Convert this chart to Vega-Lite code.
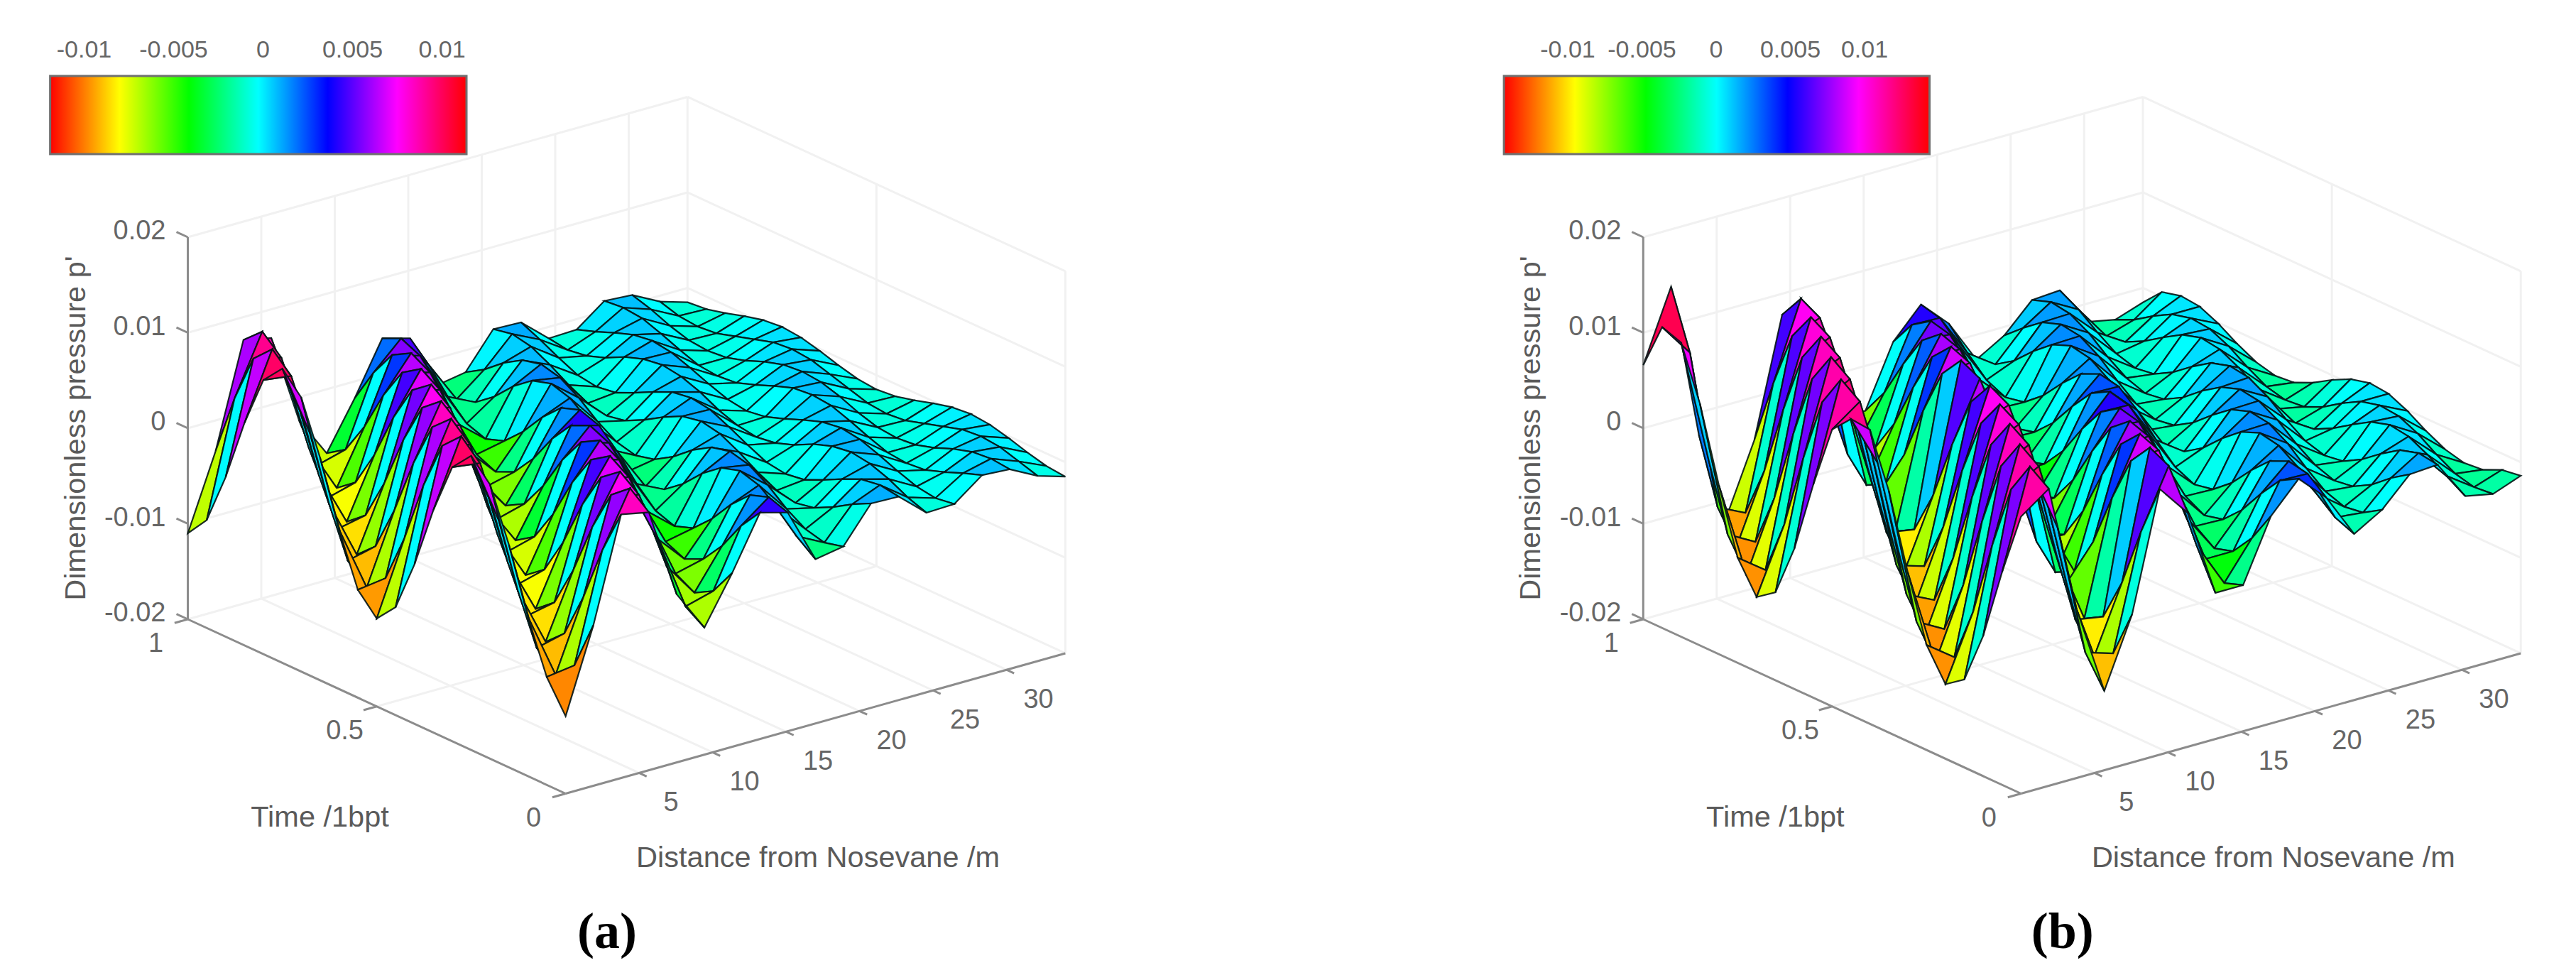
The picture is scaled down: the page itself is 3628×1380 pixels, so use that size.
{"$schema":"https://vega.github.io/schema/vega-lite/v6.json","width":3628,"height":1380,"padding":0,"autosize":{"type":"fit","contains":"padding"},"background":"white","config":{"view":{"stroke":null}},
"datasets":{
"cb":[{"r":"a","lo":-11.9,"hi":11.37},{"r":"b","lo":-14.3,"hi":14.38}],
"cbl":[{"r":"a","v":-10,"s":"-0.01"},{"r":"a","v":-5,"s":"-0.005"},{"r":"a","v":0,"s":"0"},{"r":"a","v":5,"s":"0.005"},{"r":"a","v":10,"s":"0.01"},{"r":"b","v":-10,"s":"-0.01"},{"r":"b","v":-5,"s":"-0.005"},{"r":"b","v":0,"s":"0"},{"r":"b","v":5,"s":"0.005"},{"r":"b","v":10,"s":"0.01"}],
"seg":[
{"g":"w","d":0,"t":1,"p":20,"d2":34,"t2":1,"p2":20},{"g":"w","d":0,"t":1,"p":10,"d2":34,"t2":1,"p2":10},{"g":"w","d":0,"t":1,"p":0,"d2":34,"t2":1,"p2":0},{"g":"w","d":0,"t":1,"p":-10,"d2":34,"t2":1,"p2":-10},{"g":"w","d":0,"t":1,"p":-20,"d2":34,"t2":1,"p2":-20},
{"g":"w","d":34,"t":1,"p":20,"d2":34,"t2":0,"p2":20},{"g":"w","d":34,"t":1,"p":10,"d2":34,"t2":0,"p2":10},{"g":"w","d":34,"t":1,"p":0,"d2":34,"t2":0,"p2":0},{"g":"w","d":34,"t":1,"p":-10,"d2":34,"t2":0,"p2":-10},{"g":"w","d":34,"t":1,"p":-20,"d2":34,"t2":0,"p2":-20},
{"g":"w","d":5,"t":1,"p":-20,"d2":5,"t2":1,"p2":20},{"g":"w","d":10,"t":1,"p":-20,"d2":10,"t2":1,"p2":20},{"g":"w","d":15,"t":1,"p":-20,"d2":15,"t2":1,"p2":20},{"g":"w","d":20,"t":1,"p":-20,"d2":20,"t2":1,"p2":20},{"g":"w","d":25,"t":1,"p":-20,"d2":25,"t2":1,"p2":20},{"g":"w","d":30,"t":1,"p":-20,"d2":30,"t2":1,"p2":20},{"g":"w","d":34,"t":1,"p":-20,"d2":34,"t2":1,"p2":20},{"g":"w","d":34,"t":0.5,"p":-20,"d2":34,"t2":0.5,"p2":20},{"g":"w","d":34,"t":0,"p":-20,"d2":34,"t2":0,"p2":20},
{"g":"w","d":5,"t":1,"p":-20,"d2":5,"t2":0,"p2":-20},{"g":"w","d":10,"t":1,"p":-20,"d2":10,"t2":0,"p2":-20},{"g":"w","d":15,"t":1,"p":-20,"d2":15,"t2":0,"p2":-20},{"g":"w","d":20,"t":1,"p":-20,"d2":20,"t2":0,"p2":-20},{"g":"w","d":25,"t":1,"p":-20,"d2":25,"t2":0,"p2":-20},{"g":"w","d":30,"t":1,"p":-20,"d2":30,"t2":0,"p2":-20},{"g":"w","d":0,"t":0.5,"p":-20,"d2":34,"t2":0.5,"p2":-20},
{"g":"k","d":0,"t":1,"p":-20,"d2":0,"t2":1,"p2":20},{"g":"k","d":0,"t":1,"p":-20,"d2":0,"t2":0,"p2":-20},{"g":"k","d":0,"t":0,"p":-20,"d2":34,"t2":0,"p2":-20},
{"g":"k","d":0,"t":1,"p":20,"d2":0,"t2":1.03,"p2":20},{"g":"k","d":0,"t":1,"p":10,"d2":0,"t2":1.03,"p2":10},{"g":"k","d":0,"t":1,"p":0,"d2":0,"t2":1.03,"p2":0},{"g":"k","d":0,"t":1,"p":-10,"d2":0,"t2":1.03,"p2":-10},{"g":"k","d":0,"t":1,"p":-20,"d2":0,"t2":1.03,"p2":-20},
{"g":"k","d":0,"t":0.5,"p":-20,"d2":-0.9,"t2":0.5,"p2":-20},{"g":"k","d":0,"t":0,"p":-20,"d2":-0.9,"t2":0,"p2":-20},{"g":"k","d":0,"t":1,"p":-20,"d2":-0.9,"t2":1,"p2":-20},
{"g":"k","d":5,"t":0,"p":-20,"d2":5,"t2":-0.02,"p2":-20},{"g":"k","d":10,"t":0,"p":-20,"d2":10,"t2":-0.02,"p2":-20},{"g":"k","d":15,"t":0,"p":-20,"d2":15,"t2":-0.02,"p2":-20},{"g":"k","d":20,"t":0,"p":-20,"d2":20,"t2":-0.02,"p2":-20},{"g":"k","d":25,"t":0,"p":-20,"d2":25,"t2":-0.02,"p2":-20},{"g":"k","d":30,"t":0,"p":-20,"d2":30,"t2":-0.02,"p2":-20}],
"lab":[
{"g":"p","d":0,"t":1,"p":20,"s":"0.02"},{"g":"p","d":0,"t":1,"p":10,"s":"0.01"},{"g":"p","d":0,"t":1,"p":0,"s":"0"},{"g":"p","d":0,"t":1,"p":-10,"s":"-0.01"},{"g":"p","d":0,"t":1,"p":-20,"s":"-0.02"},
{"g":"t","d":0,"t":1,"p":-20,"s":"1"},{"g":"t","d":0,"t":0.5,"p":-20,"s":"0.5"},{"g":"t","d":0,"t":0,"p":-20,"s":"0"},
{"g":"d","d":5,"t":0,"p":-20,"s":"5"},{"g":"d","d":10,"t":0,"p":-20,"s":"10"},{"g":"d","d":15,"t":0,"p":-20,"s":"15"},{"g":"d","d":20,"t":0,"p":-20,"s":"20"},{"g":"d","d":25,"t":0,"p":-20,"s":"25"},{"g":"d","d":30,"t":0,"p":-20,"s":"30"},
{"g":"T","d":0,"t":0.5,"p":-20,"s":"Time /1bpt"},{"g":"D","d":17,"t":0,"p":-20,"s":"Distance from Nosevane /m"},{"g":"P","d":0,"t":1,"p":0,"s":"Dimensionless pressure p'"}],
"grid":[
{"r":"a","j":18,"i":20,"p":-1.5},{"r":"a","j":18,"i":19,"p":-1.3},{"r":"a","j":18,"i":18,"p":-0.8},{"r":"a","j":18,"i":17,"p":-0.2},{"r":"a","j":18,"i":16,"p":0.3},{"r":"a","j":18,"i":15,"p":0.5},{"r":"a","j":18,"i":14,"p":0.3},{"r":"a","j":18,"i":13,"p":-0.2},{"r":"a","j":18,"i":12,"p":-0.8},{"r":"a","j":18,"i":11,"p":-1.3},{"r":"a","j":18,"i":10,"p":-1.5},{"r":"a","j":18,"i":9,"p":-1.3},{"r":"a","j":18,"i":8,"p":-0.8},{"r":"a","j":18,"i":7,"p":-0.2},{"r":"a","j":18,"i":6,"p":0.3},{"r":"a","j":18,"i":5,"p":0.5},{"r":"a","j":18,"i":4,"p":0.3},{"r":"a","j":18,"i":3,"p":-0.2},{"r":"a","j":18,"i":2,"p":-0.8},{"r":"a","j":18,"i":1,"p":-1.3},{"r":"a","j":18,"i":0,"p":-1.5},
{"r":"a","j":17,"i":20,"p":-0.6},{"r":"a","j":17,"i":19,"p":-1.2},{"r":"a","j":17,"i":18,"p":-1.4},{"r":"a","j":17,"i":17,"p":-1.2},{"r":"a","j":17,"i":16,"p":-0.6},{"r":"a","j":17,"i":15,"p":0},{"r":"a","j":17,"i":14,"p":0.6},{"r":"a","j":17,"i":13,"p":0.8},{"r":"a","j":17,"i":12,"p":0.6},{"r":"a","j":17,"i":11,"p":0},{"r":"a","j":17,"i":10,"p":-0.6},{"r":"a","j":17,"i":9,"p":-1.2},{"r":"a","j":17,"i":8,"p":-1.4},{"r":"a","j":17,"i":7,"p":-1.2},{"r":"a","j":17,"i":6,"p":-0.6},{"r":"a","j":17,"i":5,"p":0},{"r":"a","j":17,"i":4,"p":0.6},{"r":"a","j":17,"i":3,"p":0.8},{"r":"a","j":17,"i":2,"p":0.6},{"r":"a","j":17,"i":1,"p":0},{"r":"a","j":17,"i":0,"p":-0.6},
{"r":"a","j":16,"i":20,"p":0.9},{"r":"a","j":16,"i":19,"p":0.3},{"r":"a","j":16,"i":18,"p":-0.5},{"r":"a","j":16,"i":17,"p":-1.1},{"r":"a","j":16,"i":16,"p":-1.3},{"r":"a","j":16,"i":15,"p":-1.1},{"r":"a","j":16,"i":14,"p":-0.5},{"r":"a","j":16,"i":13,"p":0.3},{"r":"a","j":16,"i":12,"p":0.9},{"r":"a","j":16,"i":11,"p":1.1},{"r":"a","j":16,"i":10,"p":0.9},{"r":"a","j":16,"i":9,"p":0.3},{"r":"a","j":16,"i":8,"p":-0.5},{"r":"a","j":16,"i":7,"p":-1.1},{"r":"a","j":16,"i":6,"p":-1.3},{"r":"a","j":16,"i":5,"p":-1.1},{"r":"a","j":16,"i":4,"p":-0.5},{"r":"a","j":16,"i":3,"p":0.3},{"r":"a","j":16,"i":2,"p":0.9},{"r":"a","j":16,"i":1,"p":1.1},{"r":"a","j":16,"i":0,"p":0.9},
{"r":"a","j":15,"i":20,"p":1.1},{"r":"a","j":15,"i":19,"p":1.3},{"r":"a","j":15,"i":18,"p":1.1},{"r":"a","j":15,"i":17,"p":0.4},{"r":"a","j":15,"i":16,"p":-0.4},{"r":"a","j":15,"i":15,"p":-1.1},{"r":"a","j":15,"i":14,"p":-1.3},{"r":"a","j":15,"i":13,"p":-1.1},{"r":"a","j":15,"i":12,"p":-0.4},{"r":"a","j":15,"i":11,"p":0.4},{"r":"a","j":15,"i":10,"p":1.1},{"r":"a","j":15,"i":9,"p":1.3},{"r":"a","j":15,"i":8,"p":1.1},{"r":"a","j":15,"i":7,"p":0.4},{"r":"a","j":15,"i":6,"p":-0.4},{"r":"a","j":15,"i":5,"p":-1.1},{"r":"a","j":15,"i":4,"p":-1.3},{"r":"a","j":15,"i":3,"p":-1.1},{"r":"a","j":15,"i":2,"p":-0.4},{"r":"a","j":15,"i":1,"p":0.4},{"r":"a","j":15,"i":0,"p":1.1},
{"r":"a","j":14,"i":20,"p":-1.1},{"r":"a","j":14,"i":19,"p":-0.4},{"r":"a","j":14,"i":18,"p":0.4},{"r":"a","j":14,"i":17,"p":1.1},{"r":"a","j":14,"i":16,"p":1.4},{"r":"a","j":14,"i":15,"p":1.1},{"r":"a","j":14,"i":14,"p":0.4},{"r":"a","j":14,"i":13,"p":-0.4},{"r":"a","j":14,"i":12,"p":-1.1},{"r":"a","j":14,"i":11,"p":-1.4},{"r":"a","j":14,"i":10,"p":-1.1},{"r":"a","j":14,"i":9,"p":-0.4},{"r":"a","j":14,"i":8,"p":0.4},{"r":"a","j":14,"i":7,"p":1.1},{"r":"a","j":14,"i":6,"p":1.4},{"r":"a","j":14,"i":5,"p":1.1},{"r":"a","j":14,"i":4,"p":0.4},{"r":"a","j":14,"i":3,"p":-0.4},{"r":"a","j":14,"i":2,"p":-1.1},{"r":"a","j":14,"i":1,"p":-1.4},{"r":"a","j":14,"i":0,"p":-1.1},
{"r":"a","j":13,"i":20,"p":-1.2},{"r":"a","j":13,"i":19,"p":-1.5},{"r":"a","j":13,"i":18,"p":-1.2},{"r":"a","j":13,"i":17,"p":-0.5},{"r":"a","j":13,"i":16,"p":0.5},{"r":"a","j":13,"i":15,"p":1.2},{"r":"a","j":13,"i":14,"p":1.5},{"r":"a","j":13,"i":13,"p":1.2},{"r":"a","j":13,"i":12,"p":0.5},{"r":"a","j":13,"i":11,"p":-0.5},{"r":"a","j":13,"i":10,"p":-1.2},{"r":"a","j":13,"i":9,"p":-1.5},{"r":"a","j":13,"i":8,"p":-1.2},{"r":"a","j":13,"i":7,"p":-0.5},{"r":"a","j":13,"i":6,"p":0.5},{"r":"a","j":13,"i":5,"p":1.2},{"r":"a","j":13,"i":4,"p":1.5},{"r":"a","j":13,"i":3,"p":1.2},{"r":"a","j":13,"i":2,"p":0.5},{"r":"a","j":13,"i":1,"p":-0.5},{"r":"a","j":13,"i":0,"p":-1.2},
{"r":"a","j":12,"i":20,"p":1.3},{"r":"a","j":12,"i":19,"p":0.4},{"r":"a","j":12,"i":18,"p":-0.6},{"r":"a","j":12,"i":17,"p":-1.5},{"r":"a","j":12,"i":16,"p":-1.8},{"r":"a","j":12,"i":15,"p":-1.5},{"r":"a","j":12,"i":14,"p":-0.6},{"r":"a","j":12,"i":13,"p":0.4},{"r":"a","j":12,"i":12,"p":1.3},{"r":"a","j":12,"i":11,"p":1.6},{"r":"a","j":12,"i":10,"p":1.3},{"r":"a","j":12,"i":9,"p":0.4},{"r":"a","j":12,"i":8,"p":-0.6},{"r":"a","j":12,"i":7,"p":-1.5},{"r":"a","j":12,"i":6,"p":-1.8},{"r":"a","j":12,"i":5,"p":-1.5},{"r":"a","j":12,"i":4,"p":-0.6},{"r":"a","j":12,"i":3,"p":0.4},{"r":"a","j":12,"i":2,"p":1.3},{"r":"a","j":12,"i":1,"p":1.6},{"r":"a","j":12,"i":0,"p":1.3},
{"r":"a","j":11,"i":20,"p":1.4},{"r":"a","j":11,"i":19,"p":1.8},{"r":"a","j":11,"i":18,"p":1.4},{"r":"a","j":11,"i":17,"p":0.4},{"r":"a","j":11,"i":16,"p":-0.8},{"r":"a","j":11,"i":15,"p":-1.8},{"r":"a","j":11,"i":14,"p":-2.2},{"r":"a","j":11,"i":13,"p":-1.8},{"r":"a","j":11,"i":12,"p":-0.8},{"r":"a","j":11,"i":11,"p":0.4},{"r":"a","j":11,"i":10,"p":1.4},{"r":"a","j":11,"i":9,"p":1.8},{"r":"a","j":11,"i":8,"p":1.4},{"r":"a","j":11,"i":7,"p":0.4},{"r":"a","j":11,"i":6,"p":-0.8},{"r":"a","j":11,"i":5,"p":-1.8},{"r":"a","j":11,"i":4,"p":-2.2},{"r":"a","j":11,"i":3,"p":-1.8},{"r":"a","j":11,"i":2,"p":-0.8},{"r":"a","j":11,"i":1,"p":0.4},{"r":"a","j":11,"i":0,"p":1.4},
{"r":"a","j":10,"i":20,"p":-2.3},{"r":"a","j":10,"i":19,"p":-1.1},{"r":"a","j":10,"i":18,"p":0.5},{"r":"a","j":10,"i":17,"p":1.7},{"r":"a","j":10,"i":16,"p":2.2},{"r":"a","j":10,"i":15,"p":1.7},{"r":"a","j":10,"i":14,"p":0.5},{"r":"a","j":10,"i":13,"p":-1.1},{"r":"a","j":10,"i":12,"p":-2.3},{"r":"a","j":10,"i":11,"p":-2.8},{"r":"a","j":10,"i":10,"p":-2.3},{"r":"a","j":10,"i":9,"p":-1.1},{"r":"a","j":10,"i":8,"p":0.5},{"r":"a","j":10,"i":7,"p":1.7},{"r":"a","j":10,"i":6,"p":2.2},{"r":"a","j":10,"i":5,"p":1.7},{"r":"a","j":10,"i":4,"p":0.5},{"r":"a","j":10,"i":3,"p":-1.1},{"r":"a","j":10,"i":2,"p":-2.3},{"r":"a","j":10,"i":1,"p":-2.8},{"r":"a","j":10,"i":0,"p":-2.3},
{"r":"a","j":9,"i":20,"p":-2.8},{"r":"a","j":9,"i":19,"p":-3.4},{"r":"a","j":9,"i":18,"p":-2.8},{"r":"a","j":9,"i":17,"p":-1.3},{"r":"a","j":9,"i":16,"p":0.7},{"r":"a","j":9,"i":15,"p":2.2},{"r":"a","j":9,"i":14,"p":2.8},{"r":"a","j":9,"i":13,"p":2.2},{"r":"a","j":9,"i":12,"p":0.7},{"r":"a","j":9,"i":11,"p":-1.3},{"r":"a","j":9,"i":10,"p":-2.8},{"r":"a","j":9,"i":9,"p":-3.4},{"r":"a","j":9,"i":8,"p":-2.8},{"r":"a","j":9,"i":7,"p":-1.3},{"r":"a","j":9,"i":6,"p":0.7},{"r":"a","j":9,"i":5,"p":2.2},{"r":"a","j":9,"i":4,"p":2.8},{"r":"a","j":9,"i":3,"p":2.2},{"r":"a","j":9,"i":2,"p":0.7},{"r":"a","j":9,"i":1,"p":-1.3},{"r":"a","j":9,"i":0,"p":-2.8},
{"r":"a","j":8,"i":20,"p":2.9},{"r":"a","j":8,"i":19,"p":1},{"r":"a","j":8,"i":18,"p":-1.4},{"r":"a","j":8,"i":17,"p":-3.3},{"r":"a","j":8,"i":16,"p":-4},{"r":"a","j":8,"i":15,"p":-3.3},{"r":"a","j":8,"i":14,"p":-1.4},{"r":"a","j":8,"i":13,"p":1},{"r":"a","j":8,"i":12,"p":2.9},{"r":"a","j":8,"i":11,"p":3.6},{"r":"a","j":8,"i":10,"p":2.9},{"r":"a","j":8,"i":9,"p":1},{"r":"a","j":8,"i":8,"p":-1.4},{"r":"a","j":8,"i":7,"p":-3.3},{"r":"a","j":8,"i":6,"p":-4},{"r":"a","j":8,"i":5,"p":-3.3},{"r":"a","j":8,"i":4,"p":-1.4},{"r":"a","j":8,"i":3,"p":1},{"r":"a","j":8,"i":2,"p":2.9},{"r":"a","j":8,"i":1,"p":3.6},{"r":"a","j":8,"i":0,"p":2.9},
{"r":"a","j":7,"i":20,"p":3.7},{"r":"a","j":7,"i":19,"p":4.6},{"r":"a","j":7,"i":18,"p":3.7},{"r":"a","j":7,"i":17,"p":1.4},{"r":"a","j":7,"i":16,"p":-1.6},{"r":"a","j":7,"i":15,"p":-3.9},{"r":"a","j":7,"i":14,"p":-4.8},{"r":"a","j":7,"i":13,"p":-3.9},{"r":"a","j":7,"i":12,"p":-1.6},{"r":"a","j":7,"i":11,"p":1.4},{"r":"a","j":7,"i":10,"p":3.7},{"r":"a","j":7,"i":9,"p":4.6},{"r":"a","j":7,"i":8,"p":3.7},{"r":"a","j":7,"i":7,"p":1.4},{"r":"a","j":7,"i":6,"p":-1.6},{"r":"a","j":7,"i":5,"p":-3.9},{"r":"a","j":7,"i":4,"p":-4.8},{"r":"a","j":7,"i":3,"p":-3.9},{"r":"a","j":7,"i":2,"p":-1.6},{"r":"a","j":7,"i":1,"p":1.4},{"r":"a","j":7,"i":0,"p":3.7},
{"r":"a","j":6,"i":20,"p":-1.8},{"r":"a","j":6,"i":19,"p":1.8},{"r":"a","j":6,"i":18,"p":4.6},{"r":"a","j":6,"i":17,"p":5.7},{"r":"a","j":6,"i":16,"p":4.6},{"r":"a","j":6,"i":15,"p":1.8},{"r":"a","j":6,"i":14,"p":-1.8},{"r":"a","j":6,"i":13,"p":-4.6},{"r":"a","j":6,"i":12,"p":-5.7},{"r":"a","j":6,"i":11,"p":-4.6},{"r":"a","j":6,"i":10,"p":-1.8},{"r":"a","j":6,"i":9,"p":1.8},{"r":"a","j":6,"i":8,"p":4.6},{"r":"a","j":6,"i":7,"p":5.7},{"r":"a","j":6,"i":6,"p":4.6},{"r":"a","j":6,"i":5,"p":1.8},{"r":"a","j":6,"i":4,"p":-1.8},{"r":"a","j":6,"i":3,"p":-4.6},{"r":"a","j":6,"i":2,"p":-5.7},{"r":"a","j":6,"i":1,"p":-4.6},{"r":"a","j":6,"i":0,"p":-1.8},
{"r":"a","j":5,"i":20,"p":-6.7},{"r":"a","j":5,"i":19,"p":-5.4},{"r":"a","j":5,"i":18,"p":-2.1},{"r":"a","j":5,"i":17,"p":2.1},{"r":"a","j":5,"i":16,"p":5.4},{"r":"a","j":5,"i":15,"p":6.7},{"r":"a","j":5,"i":14,"p":5.4},{"r":"a","j":5,"i":13,"p":2.1},{"r":"a","j":5,"i":12,"p":-2.1},{"r":"a","j":5,"i":11,"p":-5.4},{"r":"a","j":5,"i":10,"p":-6.7},{"r":"a","j":5,"i":9,"p":-5.4},{"r":"a","j":5,"i":8,"p":-2.1},{"r":"a","j":5,"i":7,"p":2.1},{"r":"a","j":5,"i":6,"p":5.4},{"r":"a","j":5,"i":5,"p":6.7},{"r":"a","j":5,"i":4,"p":5.4},{"r":"a","j":5,"i":3,"p":2.1},{"r":"a","j":5,"i":2,"p":-2.1},{"r":"a","j":5,"i":1,"p":-5.4},{"r":"a","j":5,"i":0,"p":-6.7},
{"r":"a","j":4,"i":20,"p":-2.4},{"r":"a","j":4,"i":19,"p":-6.2},{"r":"a","j":4,"i":18,"p":-7.7},{"r":"a","j":4,"i":17,"p":-6.2},{"r":"a","j":4,"i":16,"p":-2.4},{"r":"a","j":4,"i":15,"p":2.4},{"r":"a","j":4,"i":14,"p":6.2},{"r":"a","j":4,"i":13,"p":7.7},{"r":"a","j":4,"i":12,"p":6.2},{"r":"a","j":4,"i":11,"p":2.4},{"r":"a","j":4,"i":10,"p":-2.4},{"r":"a","j":4,"i":9,"p":-6.2},{"r":"a","j":4,"i":8,"p":-7.7},{"r":"a","j":4,"i":7,"p":-6.2},{"r":"a","j":4,"i":6,"p":-2.4},{"r":"a","j":4,"i":5,"p":2.4},{"r":"a","j":4,"i":4,"p":6.2},{"r":"a","j":4,"i":3,"p":7.7},{"r":"a","j":4,"i":2,"p":6.2},{"r":"a","j":4,"i":1,"p":2.4},{"r":"a","j":4,"i":0,"p":-2.4},
{"r":"a","j":3,"i":20,"p":7},{"r":"a","j":3,"i":19,"p":2.7},{"r":"a","j":3,"i":18,"p":-2.7},{"r":"a","j":3,"i":17,"p":-7},{"r":"a","j":3,"i":16,"p":-8.6},{"r":"a","j":3,"i":15,"p":-7},{"r":"a","j":3,"i":14,"p":-2.7},{"r":"a","j":3,"i":13,"p":2.7},{"r":"a","j":3,"i":12,"p":7},{"r":"a","j":3,"i":11,"p":8.6},{"r":"a","j":3,"i":10,"p":7},{"r":"a","j":3,"i":9,"p":2.7},{"r":"a","j":3,"i":8,"p":-2.7},{"r":"a","j":3,"i":7,"p":-7},{"r":"a","j":3,"i":6,"p":-8.6},{"r":"a","j":3,"i":5,"p":-7},{"r":"a","j":3,"i":4,"p":-2.7},{"r":"a","j":3,"i":3,"p":2.7},{"r":"a","j":3,"i":2,"p":7},{"r":"a","j":3,"i":1,"p":8.6},{"r":"a","j":3,"i":0,"p":7},
{"r":"a","j":2,"i":20,"p":7.6},{"r":"a","j":2,"i":19,"p":9.4},{"r":"a","j":2,"i":18,"p":7.6},{"r":"a","j":2,"i":17,"p":2.9},{"r":"a","j":2,"i":16,"p":-2.9},{"r":"a","j":2,"i":15,"p":-7.6},{"r":"a","j":2,"i":14,"p":-9.4},{"r":"a","j":2,"i":13,"p":-7.6},{"r":"a","j":2,"i":12,"p":-2.9},{"r":"a","j":2,"i":11,"p":2.9},{"r":"a","j":2,"i":10,"p":7.6},{"r":"a","j":2,"i":9,"p":9.4},{"r":"a","j":2,"i":8,"p":7.6},{"r":"a","j":2,"i":7,"p":2.9},{"r":"a","j":2,"i":6,"p":-2.9},{"r":"a","j":2,"i":5,"p":-7.6},{"r":"a","j":2,"i":4,"p":-9.4},{"r":"a","j":2,"i":3,"p":-7.6},{"r":"a","j":2,"i":2,"p":-2.9},{"r":"a","j":2,"i":1,"p":2.9},{"r":"a","j":2,"i":0,"p":7.6},
{"r":"a","j":1,"i":20,"p":-3.2},{"r":"a","j":1,"i":19,"p":3.2},{"r":"a","j":1,"i":18,"p":8.3},{"r":"a","j":1,"i":17,"p":10.2},{"r":"a","j":1,"i":16,"p":8.3},{"r":"a","j":1,"i":15,"p":3.2},{"r":"a","j":1,"i":14,"p":-3.2},{"r":"a","j":1,"i":13,"p":-8.3},{"r":"a","j":1,"i":12,"p":-10.2},{"r":"a","j":1,"i":11,"p":-8.3},{"r":"a","j":1,"i":10,"p":-3.2},{"r":"a","j":1,"i":9,"p":3.2},{"r":"a","j":1,"i":8,"p":8.3},{"r":"a","j":1,"i":7,"p":10.2},{"r":"a","j":1,"i":6,"p":8.3},{"r":"a","j":1,"i":5,"p":3.2},{"r":"a","j":1,"i":4,"p":-3.2},{"r":"a","j":1,"i":3,"p":-8.3},{"r":"a","j":1,"i":2,"p":-10.2},{"r":"a","j":1,"i":1,"p":-8.3},{"r":"a","j":1,"i":0,"p":-3.2},
{"r":"a","j":0,"i":20,"p":-11},{"r":"a","j":0,"i":19,"p":-8.7},{"r":"a","j":0,"i":18,"p":-3.3},{"r":"a","j":0,"i":17,"p":3.3},{"r":"a","j":0,"i":16,"p":8.7},{"r":"a","j":0,"i":15,"p":10.8},{"r":"a","j":0,"i":14,"p":8.7},{"r":"a","j":0,"i":13,"p":3.3},{"r":"a","j":0,"i":12,"p":-3.3},{"r":"a","j":0,"i":11,"p":-8.7},{"r":"a","j":0,"i":10,"p":-10.8},{"r":"a","j":0,"i":9,"p":-8.7},{"r":"a","j":0,"i":8,"p":-3.3},{"r":"a","j":0,"i":7,"p":3.3},{"r":"a","j":0,"i":6,"p":8.7},{"r":"a","j":0,"i":5,"p":10.8},{"r":"a","j":0,"i":4,"p":8.7},{"r":"a","j":0,"i":3,"p":3.3},{"r":"a","j":0,"i":2,"p":-3.3},{"r":"a","j":0,"i":1,"p":-8.7},{"r":"a","j":0,"i":0,"p":-11.9},
{"r":"b","j":18,"i":20,"p":-1.5},{"r":"b","j":18,"i":19,"p":0.5},{"r":"b","j":18,"i":18,"p":1},{"r":"b","j":18,"i":17,"p":0.8},{"r":"b","j":18,"i":16,"p":-0.1},{"r":"b","j":18,"i":15,"p":-1.3},{"r":"b","j":18,"i":14,"p":-2.3},{"r":"b","j":18,"i":13,"p":-2.8},{"r":"b","j":18,"i":12,"p":-2.6},{"r":"b","j":18,"i":11,"p":-1.7},{"r":"b","j":18,"i":10,"p":-0.5},{"r":"b","j":18,"i":9,"p":0.5},{"r":"b","j":18,"i":8,"p":1},{"r":"b","j":18,"i":7,"p":0.8},{"r":"b","j":18,"i":6,"p":-0.1},{"r":"b","j":18,"i":5,"p":-1.3},{"r":"b","j":18,"i":4,"p":-2.3},{"r":"b","j":18,"i":3,"p":-2.8},{"r":"b","j":18,"i":2,"p":-2.6},{"r":"b","j":18,"i":1,"p":-1.7},{"r":"b","j":18,"i":0,"p":-1.4},
{"r":"b","j":17,"i":20,"p":-2.5},{"r":"b","j":17,"i":19,"p":-1.6},{"r":"b","j":17,"i":18,"p":-0.3},{"r":"b","j":17,"i":17,"p":0.8},{"r":"b","j":17,"i":16,"p":1.3},{"r":"b","j":17,"i":15,"p":1.1},{"r":"b","j":17,"i":14,"p":0.2},{"r":"b","j":17,"i":13,"p":-1.1},{"r":"b","j":17,"i":12,"p":-2.2},{"r":"b","j":17,"i":11,"p":-2.7},{"r":"b","j":17,"i":10,"p":-2.5},{"r":"b","j":17,"i":9,"p":-1.6},{"r":"b","j":17,"i":8,"p":-0.3},{"r":"b","j":17,"i":7,"p":0.8},{"r":"b","j":17,"i":6,"p":1.3},{"r":"b","j":17,"i":5,"p":1.1},{"r":"b","j":17,"i":4,"p":0.2},{"r":"b","j":17,"i":3,"p":-1.1},{"r":"b","j":17,"i":2,"p":-2.2},{"r":"b","j":17,"i":1,"p":-2.7},{"r":"b","j":17,"i":0,"p":-2.5},
{"r":"b","j":16,"i":20,"p":-1.9},{"r":"b","j":16,"i":19,"p":-2.5},{"r":"b","j":16,"i":18,"p":-2.2},{"r":"b","j":16,"i":17,"p":-1.2},{"r":"b","j":16,"i":16,"p":0.1},{"r":"b","j":16,"i":15,"p":1.3},{"r":"b","j":16,"i":14,"p":1.9},{"r":"b","j":16,"i":13,"p":1.6},{"r":"b","j":16,"i":12,"p":0.6},{"r":"b","j":16,"i":11,"p":-0.7},{"r":"b","j":16,"i":10,"p":-1.9},{"r":"b","j":16,"i":9,"p":-2.5},{"r":"b","j":16,"i":8,"p":-2.2},{"r":"b","j":16,"i":7,"p":-1.2},{"r":"b","j":16,"i":6,"p":0.1},{"r":"b","j":16,"i":5,"p":1.3},{"r":"b","j":16,"i":4,"p":1.9},{"r":"b","j":16,"i":3,"p":1.6},{"r":"b","j":16,"i":2,"p":0.6},{"r":"b","j":16,"i":1,"p":-0.7},{"r":"b","j":16,"i":0,"p":-1.9},
{"r":"b","j":15,"i":20,"p":2.2},{"r":"b","j":15,"i":19,"p":1.1},{"r":"b","j":15,"i":18,"p":-0.4},{"r":"b","j":15,"i":17,"p":-1.7},{"r":"b","j":15,"i":16,"p":-2.3},{"r":"b","j":15,"i":15,"p":-2},{"r":"b","j":15,"i":14,"p":-0.9},{"r":"b","j":15,"i":13,"p":0.6},{"r":"b","j":15,"i":12,"p":1.9},{"r":"b","j":15,"i":11,"p":2.5},{"r":"b","j":15,"i":10,"p":2.2},{"r":"b","j":15,"i":9,"p":1.1},{"r":"b","j":15,"i":8,"p":-0.4},{"r":"b","j":15,"i":7,"p":-1.7},{"r":"b","j":15,"i":6,"p":-2.3},{"r":"b","j":15,"i":5,"p":-2},{"r":"b","j":15,"i":4,"p":-0.9},{"r":"b","j":15,"i":3,"p":0.6},{"r":"b","j":15,"i":2,"p":1.9},{"r":"b","j":15,"i":1,"p":2.5},{"r":"b","j":15,"i":0,"p":2.2},
{"r":"b","j":14,"i":20,"p":2},{"r":"b","j":14,"i":19,"p":2.7},{"r":"b","j":14,"i":18,"p":2.4},{"r":"b","j":14,"i":17,"p":1.3},{"r":"b","j":14,"i":16,"p":-0.3},{"r":"b","j":14,"i":15,"p":-1.6},{"r":"b","j":14,"i":14,"p":-2.3},{"r":"b","j":14,"i":13,"p":-2},{"r":"b","j":14,"i":12,"p":-0.9},{"r":"b","j":14,"i":11,"p":0.7},{"r":"b","j":14,"i":10,"p":2},{"r":"b","j":14,"i":9,"p":2.7},{"r":"b","j":14,"i":8,"p":2.4},{"r":"b","j":14,"i":7,"p":1.3},{"r":"b","j":14,"i":6,"p":-0.3},{"r":"b","j":14,"i":5,"p":-1.6},{"r":"b","j":14,"i":4,"p":-2.3},{"r":"b","j":14,"i":3,"p":-2},{"r":"b","j":14,"i":2,"p":-0.9},{"r":"b","j":14,"i":1,"p":0.7},{"r":"b","j":14,"i":0,"p":2},
{"r":"b","j":13,"i":20,"p":-0.9},{"r":"b","j":13,"i":19,"p":0.8},{"r":"b","j":13,"i":18,"p":2.3},{"r":"b","j":13,"i":17,"p":3},{"r":"b","j":13,"i":16,"p":2.7},{"r":"b","j":13,"i":15,"p":1.5},{"r":"b","j":13,"i":14,"p":-0.2},{"r":"b","j":13,"i":13,"p":-1.7},{"r":"b","j":13,"i":12,"p":-2.4},{"r":"b","j":13,"i":11,"p":-2.1},{"r":"b","j":13,"i":10,"p":-0.9},{"r":"b","j":13,"i":9,"p":0.8},{"r":"b","j":13,"i":8,"p":2.3},{"r":"b","j":13,"i":7,"p":3},{"r":"b","j":13,"i":6,"p":2.7},{"r":"b","j":13,"i":5,"p":1.5},{"r":"b","j":13,"i":4,"p":-0.2},{"r":"b","j":13,"i":3,"p":-1.7},{"r":"b","j":13,"i":2,"p":-2.4},{"r":"b","j":13,"i":1,"p":-2.1},{"r":"b","j":13,"i":0,"p":-0.9},
{"r":"b","j":12,"i":20,"p":-2.6},{"r":"b","j":12,"i":19,"p":-2.2},{"r":"b","j":12,"i":18,"p":-0.9},{"r":"b","j":12,"i":17,"p":1},{"r":"b","j":12,"i":16,"p":2.6},{"r":"b","j":12,"i":15,"p":3.4},{"r":"b","j":12,"i":14,"p":3},{"r":"b","j":12,"i":13,"p":1.7},{"r":"b","j":12,"i":12,"p":-0.2},{"r":"b","j":12,"i":11,"p":-1.8},{"r":"b","j":12,"i":10,"p":-2.6},{"r":"b","j":12,"i":9,"p":-2.2},{"r":"b","j":12,"i":8,"p":-0.9},{"r":"b","j":12,"i":7,"p":1},{"r":"b","j":12,"i":6,"p":2.6},{"r":"b","j":12,"i":5,"p":3.4},{"r":"b","j":12,"i":4,"p":3},{"r":"b","j":12,"i":3,"p":1.7},{"r":"b","j":12,"i":2,"p":-0.2},{"r":"b","j":12,"i":1,"p":-1.8},{"r":"b","j":12,"i":0,"p":-2.6},
{"r":"b","j":11,"i":20,"p":2},{"r":"b","j":11,"i":19,"p":-0.2},{"r":"b","j":11,"i":18,"p":-2.1},{"r":"b","j":11,"i":17,"p":-3},{"r":"b","j":11,"i":16,"p":-2.6},{"r":"b","j":11,"i":15,"p":-1},{"r":"b","j":11,"i":14,"p":1.2},{"r":"b","j":11,"i":13,"p":3.1},{"r":"b","j":11,"i":12,"p":4},{"r":"b","j":11,"i":11,"p":3.6},{"r":"b","j":11,"i":10,"p":2},{"r":"b","j":11,"i":9,"p":-0.2},{"r":"b","j":11,"i":8,"p":-2.1},{"r":"b","j":11,"i":7,"p":-3},{"r":"b","j":11,"i":6,"p":-2.6},{"r":"b","j":11,"i":5,"p":-1},{"r":"b","j":11,"i":4,"p":1.2},{"r":"b","j":11,"i":3,"p":3.1},{"r":"b","j":11,"i":2,"p":4},{"r":"b","j":11,"i":1,"p":3.6},{"r":"b","j":11,"i":0,"p":2},
{"r":"b","j":10,"i":20,"p":4.8},{"r":"b","j":10,"i":19,"p":4.3},{"r":"b","j":10,"i":18,"p":2.4},{"r":"b","j":10,"i":17,"p":-0.2},{"r":"b","j":10,"i":16,"p":-2.5},{"r":"b","j":10,"i":15,"p":-3.6},{"r":"b","j":10,"i":14,"p":-3.1},{"r":"b","j":10,"i":13,"p":-1.2},{"r":"b","j":10,"i":12,"p":1.4},{"r":"b","j":10,"i":11,"p":3.7},{"r":"b","j":10,"i":10,"p":4.8},{"r":"b","j":10,"i":9,"p":4.3},{"r":"b","j":10,"i":8,"p":2.4},{"r":"b","j":10,"i":7,"p":-0.2},{"r":"b","j":10,"i":6,"p":-2.5},{"r":"b","j":10,"i":5,"p":-3.6},{"r":"b","j":10,"i":4,"p":-3.1},{"r":"b","j":10,"i":3,"p":-1.2},{"r":"b","j":10,"i":2,"p":1.4},{"r":"b","j":10,"i":1,"p":3.7},{"r":"b","j":10,"i":0,"p":4.8},
{"r":"b","j":9,"i":20,"p":1.7},{"r":"b","j":9,"i":19,"p":4.4},{"r":"b","j":9,"i":18,"p":5.7},{"r":"b","j":9,"i":17,"p":5.2},{"r":"b","j":9,"i":16,"p":2.9},{"r":"b","j":9,"i":15,"p":-0.3},{"r":"b","j":9,"i":14,"p":-3},{"r":"b","j":9,"i":13,"p":-4.4},{"r":"b","j":9,"i":12,"p":-3.8},{"r":"b","j":9,"i":11,"p":-1.5},{"r":"b","j":9,"i":10,"p":1.7},{"r":"b","j":9,"i":9,"p":4.4},{"r":"b","j":9,"i":8,"p":5.7},{"r":"b","j":9,"i":7,"p":5.2},{"r":"b","j":9,"i":6,"p":2.9},{"r":"b","j":9,"i":5,"p":-0.3},{"r":"b","j":9,"i":4,"p":-3},{"r":"b","j":9,"i":3,"p":-4.4},{"r":"b","j":9,"i":2,"p":-3.8},{"r":"b","j":9,"i":1,"p":-1.5},{"r":"b","j":9,"i":0,"p":1.7},
{"r":"b","j":8,"i":20,"p":-4.7},{"r":"b","j":8,"i":19,"p":-1.9},{"r":"b","j":8,"i":18,"p":2},{"r":"b","j":8,"i":17,"p":5.4},{"r":"b","j":8,"i":16,"p":7},{"r":"b","j":8,"i":15,"p":6.3},{"r":"b","j":8,"i":14,"p":3.5},{"r":"b","j":8,"i":13,"p":-0.4},{"r":"b","j":8,"i":12,"p":-3.8},{"r":"b","j":8,"i":11,"p":-5.4},{"r":"b","j":8,"i":10,"p":-4.7},{"r":"b","j":8,"i":9,"p":-1.9},{"r":"b","j":8,"i":8,"p":2},{"r":"b","j":8,"i":7,"p":5.4},{"r":"b","j":8,"i":6,"p":7},{"r":"b","j":8,"i":5,"p":6.3},{"r":"b","j":8,"i":4,"p":3.5},{"r":"b","j":8,"i":3,"p":-0.4},{"r":"b","j":8,"i":2,"p":-3.8},{"r":"b","j":8,"i":1,"p":-5.4},{"r":"b","j":8,"i":0,"p":-4.7},
{"r":"b","j":7,"i":20,"p":-4.7},{"r":"b","j":7,"i":19,"p":-6.7},{"r":"b","j":7,"i":18,"p":-5.9},{"r":"b","j":7,"i":17,"p":-2.5},{"r":"b","j":7,"i":16,"p":2.2},{"r":"b","j":7,"i":15,"p":6.3},{"r":"b","j":7,"i":14,"p":8.3},{"r":"b","j":7,"i":13,"p":7.5},{"r":"b","j":7,"i":12,"p":4.1},{"r":"b","j":7,"i":11,"p":-0.6},{"r":"b","j":7,"i":10,"p":-4.7},{"r":"b","j":7,"i":9,"p":-6.7},{"r":"b","j":7,"i":8,"p":-5.9},{"r":"b","j":7,"i":7,"p":-2.5},{"r":"b","j":7,"i":6,"p":2.2},{"r":"b","j":7,"i":5,"p":6.3},{"r":"b","j":7,"i":4,"p":8.3},{"r":"b","j":7,"i":3,"p":7.5},{"r":"b","j":7,"i":2,"p":4.1},{"r":"b","j":7,"i":1,"p":-0.6},{"r":"b","j":7,"i":0,"p":-4.7},
{"r":"b","j":6,"i":20,"p":4.5},{"r":"b","j":6,"i":19,"p":-1},{"r":"b","j":6,"i":18,"p":-5.8},{"r":"b","j":6,"i":17,"p":-8.1},{"r":"b","j":6,"i":16,"p":-7.1},{"r":"b","j":6,"i":15,"p":-3.1},{"r":"b","j":6,"i":14,"p":2.4},{"r":"b","j":6,"i":13,"p":7.2},{"r":"b","j":6,"i":12,"p":9.5},{"r":"b","j":6,"i":11,"p":8.5},{"r":"b","j":6,"i":10,"p":4.5},{"r":"b","j":6,"i":9,"p":-1},{"r":"b","j":6,"i":8,"p":-5.8},{"r":"b","j":6,"i":7,"p":-8.1},{"r":"b","j":6,"i":6,"p":-7.1},{"r":"b","j":6,"i":5,"p":-3.1},{"r":"b","j":6,"i":4,"p":2.4},{"r":"b","j":6,"i":3,"p":7.2},{"r":"b","j":6,"i":2,"p":9.5},{"r":"b","j":6,"i":1,"p":8.5},{"r":"b","j":6,"i":0,"p":4.5},
{"r":"b","j":5,"i":20,"p":7.8},{"r":"b","j":5,"i":19,"p":10.4},{"r":"b","j":5,"i":18,"p":9.3},{"r":"b","j":5,"i":17,"p":4.8},{"r":"b","j":5,"i":16,"p":-1.4},{"r":"b","j":5,"i":15,"p":-6.8},{"r":"b","j":5,"i":14,"p":-9.4},{"r":"b","j":5,"i":13,"p":-8.3},{"r":"b","j":5,"i":12,"p":-3.8},{"r":"b","j":5,"i":11,"p":2.4},{"r":"b","j":5,"i":10,"p":7.8},{"r":"b","j":5,"i":9,"p":10.4},{"r":"b","j":5,"i":8,"p":9.3},{"r":"b","j":5,"i":7,"p":4.8},{"r":"b","j":5,"i":6,"p":-1.4},{"r":"b","j":5,"i":5,"p":-6.8},{"r":"b","j":5,"i":4,"p":-9.4},{"r":"b","j":5,"i":3,"p":-8.3},{"r":"b","j":5,"i":2,"p":-3.8},{"r":"b","j":5,"i":1,"p":2.4},{"r":"b","j":5,"i":0,"p":7.8},
{"r":"b","j":4,"i":20,"p":-4.5},{"r":"b","j":4,"i":19,"p":2.3},{"r":"b","j":4,"i":18,"p":8.2},{"r":"b","j":4,"i":17,"p":11.1},{"r":"b","j":4,"i":16,"p":9.9},{"r":"b","j":4,"i":15,"p":4.9},{"r":"b","j":4,"i":14,"p":-1.9},{"r":"b","j":4,"i":13,"p":-7.8},{"r":"b","j":4,"i":12,"p":-10.7},{"r":"b","j":4,"i":11,"p":-9.5},{"r":"b","j":4,"i":10,"p":-4.5},{"r":"b","j":4,"i":9,"p":2.3},{"r":"b","j":4,"i":8,"p":8.2},{"r":"b","j":4,"i":7,"p":11.1},{"r":"b","j":4,"i":6,"p":9.9},{"r":"b","j":4,"i":5,"p":4.9},{"r":"b","j":4,"i":4,"p":-1.9},{"r":"b","j":4,"i":3,"p":-7.8},{"r":"b","j":4,"i":2,"p":-10.7},{"r":"b","j":4,"i":1,"p":-9.5},{"r":"b","j":4,"i":0,"p":-4.5},
{"r":"b","j":3,"i":20,"p":-11.7},{"r":"b","j":3,"i":19,"p":-10.4},{"r":"b","j":3,"i":18,"p":-5.1},{"r":"b","j":3,"i":17,"p":2.2},{"r":"b","j":3,"i":16,"p":8.6},{"r":"b","j":3,"i":15,"p":11.7},{"r":"b","j":3,"i":14,"p":10.4},{"r":"b","j":3,"i":13,"p":5.1},{"r":"b","j":3,"i":12,"p":-2.2},{"r":"b","j":3,"i":11,"p":-8.6},{"r":"b","j":3,"i":10,"p":-11.7},{"r":"b","j":3,"i":9,"p":-10.4},{"r":"b","j":3,"i":8,"p":-5.1},{"r":"b","j":3,"i":7,"p":2.2},{"r":"b","j":3,"i":6,"p":8.6},{"r":"b","j":3,"i":5,"p":11.7},{"r":"b","j":3,"i":4,"p":10.4},{"r":"b","j":3,"i":3,"p":5.1},{"r":"b","j":3,"i":2,"p":-2.2},{"r":"b","j":3,"i":1,"p":-8.6},{"r":"b","j":3,"i":0,"p":-11.7},
{"r":"b","j":2,"i":20,"p":-2.3},{"r":"b","j":2,"i":19,"p":-9},{"r":"b","j":2,"i":18,"p":-12.2},{"r":"b","j":2,"i":17,"p":-10.8},{"r":"b","j":2,"i":16,"p":-5.3},{"r":"b","j":2,"i":15,"p":2.3},{"r":"b","j":2,"i":14,"p":9},{"r":"b","j":2,"i":13,"p":12.2},{"r":"b","j":2,"i":12,"p":10.8},{"r":"b","j":2,"i":11,"p":5.3},{"r":"b","j":2,"i":10,"p":-2.3},{"r":"b","j":2,"i":9,"p":-9},{"r":"b","j":2,"i":8,"p":-12.2},{"r":"b","j":2,"i":7,"p":-10.8},{"r":"b","j":2,"i":6,"p":-5.3},{"r":"b","j":2,"i":5,"p":2.3},{"r":"b","j":2,"i":4,"p":9},{"r":"b","j":2,"i":3,"p":12.2},{"r":"b","j":2,"i":2,"p":10.8},{"r":"b","j":2,"i":1,"p":5.3},{"r":"b","j":2,"i":0,"p":-2.3},
{"r":"b","j":1,"i":20,"p":14},{"r":"b","j":1,"i":19,"p":8},{"r":"b","j":1,"i":18,"p":-2.4},{"r":"b","j":1,"i":17,"p":-9.2},{"r":"b","j":1,"i":16,"p":-12.5},{"r":"b","j":1,"i":15,"p":-11.1},{"r":"b","j":1,"i":14,"p":-5.4},{"r":"b","j":1,"i":13,"p":2.4},{"r":"b","j":1,"i":12,"p":9.2},{"r":"b","j":1,"i":11,"p":12.5},{"r":"b","j":1,"i":10,"p":11.1},{"r":"b","j":1,"i":9,"p":5.4},{"r":"b","j":1,"i":8,"p":-2.4},{"r":"b","j":1,"i":7,"p":-9.2},{"r":"b","j":1,"i":6,"p":-12.5},{"r":"b","j":1,"i":5,"p":-11.1},{"r":"b","j":1,"i":4,"p":-5.4},{"r":"b","j":1,"i":3,"p":2.4},{"r":"b","j":1,"i":2,"p":9.2},{"r":"b","j":1,"i":1,"p":12.5},{"r":"b","j":1,"i":0,"p":11.1},
{"r":"b","j":0,"i":20,"p":6.6},{"r":"b","j":0,"i":19,"p":11.5},{"r":"b","j":0,"i":18,"p":10.8},{"r":"b","j":0,"i":17,"p":5.3},{"r":"b","j":0,"i":16,"p":-2.3},{"r":"b","j":0,"i":15,"p":-9},{"r":"b","j":0,"i":14,"p":-12.2},{"r":"b","j":0,"i":13,"p":-10.8},{"r":"b","j":0,"i":12,"p":-5.3},{"r":"b","j":0,"i":11,"p":2.3},{"r":"b","j":0,"i":10,"p":9},{"r":"b","j":0,"i":9,"p":11},{"r":"b","j":0,"i":8,"p":10.8},{"r":"b","j":0,"i":7,"p":5.3},{"r":"b","j":0,"i":6,"p":-2.3},{"r":"b","j":0,"i":5,"p":-9},{"r":"b","j":0,"i":4,"p":-12.2},{"r":"b","j":0,"i":3,"p":-10.8},{"r":"b","j":0,"i":2,"p":-5.3},{"r":"b","j":0,"i":1,"p":2.3},{"r":"b","j":0,"i":0,"p":9}
]},
"layer":[
{"data":{"name":"seg"},"transform":[{"filter":"datum.g=='w'"},{"calculate":"['a','b']","as":"r"},{"flatten":["r"]},{"calculate":"(datum.r=='a'?796.6:2846.4)+20.7*datum.d-532.1*datum.t","as":"x"},{"calculate":"(datum.r=='a'?796.6:2846.4)+20.7*datum.d2-532.1*datum.t2","as":"x2"},{"calculate":"1117.5-5.81*datum.d-245.5*datum.t-(datum.p+20)*13.45","as":"y"},{"calculate":"1117.5-5.81*datum.d2-245.5*datum.t2-(datum.p2+20)*13.45","as":"y2"}],
"mark":{"type":"rule","color":"#f1f1f1","strokeWidth":3},
"encoding":{"x":{"field":"x","type":"quantitative","scale":{"domain":[0,3628],"nice":false,"zero":false},"axis":null},"y":{"field":"y","type":"quantitative","scale":{"domain":[1380,0],"nice":false,"zero":false},"axis":null},"x2":{"field":"x2"},"y2":{"field":"y2"}}},
{"data":{"name":"seg"},"transform":[{"filter":"datum.g=='k'"},{"calculate":"['a','b']","as":"r"},{"flatten":["r"]},{"calculate":"(datum.r=='a'?796.6:2846.4)+20.7*datum.d-532.1*datum.t","as":"x"},{"calculate":"(datum.r=='a'?796.6:2846.4)+20.7*datum.d2-532.1*datum.t2","as":"x2"},{"calculate":"1117.5-5.81*datum.d-245.5*datum.t-(datum.p+20)*13.45","as":"y"},{"calculate":"1117.5-5.81*datum.d2-245.5*datum.t2-(datum.p2+20)*13.45","as":"y2"}],
"mark":{"type":"rule","color":"#8c8c8c","strokeWidth":3},
"encoding":{"x":{"field":"x","type":"quantitative","axis":null},"y":{"field":"y","type":"quantitative","axis":null},"x2":{"field":"x2"},"y2":{"field":"y2"}}},
{"data":{"name":"grid"},"transform":[
{"window":[{"op":"lead","field":"p","param":1,"as":"pd"}],"groupby":["r","i"],"sort":[{"field":"j","order":"ascending"}]},
{"window":[{"op":"lead","field":"p","param":1,"as":"pt"},{"op":"lead","field":"pd","param":1,"as":"pdt"}],"groupby":["r","j"],"sort":[{"field":"i","order":"ascending"}]},
{"filter":"isValid(datum.pd)&&isValid(datum.pt)&&isValid(datum.pdt)"},
{"calculate":"(datum.r=='a'?796.6:2846.4)+39.1*datum.j-26.6*datum.i","as":"bx"},
{"calculate":"1117.5-10.97*datum.j-12.275*datum.i","as":"by"},
{"calculate":"{type:'Polygon',coordinates:[[[datum.bx,datum.by-(datum.p+20)*13.45],[datum.bx+39.1,datum.by-10.97-(datum.pd+20)*13.45],[datum.bx+12.5,datum.by-23.245-(datum.pdt+20)*13.45],[datum.bx-26.6,datum.by-12.275-(datum.pt+20)*13.45],[datum.bx,datum.by-(datum.p+20)*13.45]]]}","as":"geo"},
{"calculate":"1.3*(datum.p+datum.pd+datum.pt+datum.pdt)/4","as":"m"},
{"calculate":"datum.r=='a'?(datum.m+11.9)/23.27:(datum.m+14.3)/28.68","as":"c"},
{"calculate":"datum.j*100+datum.i","as":"z"}],
"projection":{"type":"identity","scale":1,"translate":[0,0]},
"mark":{"type":"geoshape","filled":true,"stroke":"#041414","strokeWidth":2.2,"strokeOpacity":0.9},
"encoding":{"shape":{"field":"geo","type":"geojson"},"color":{"field":"c","type":"quantitative","legend":null,"scale":{"domain":[0,0.1667,0.3333,0.5,0.6667,0.8333,1],"range":["#ff0000","#ffff00","#00ff00","#00ffff","#0000ff","#ff00ff","#ff0000"],"clamp":true}},"order":{"field":"z","type":"quantitative","sort":"descending"}}},
{"data":{"name":"cb"},"transform":[{"calculate":"datum.r=='a'?370.5+25.2*datum.lo:2417+20.9*datum.lo","as":"x"},{"calculate":"datum.r=='a'?370.5+25.2*datum.hi:2417+20.9*datum.hi","as":"x2"},{"calculate":"107","as":"y"},{"calculate":"217","as":"y2"}],
"mark":{"type":"rect","stroke":"#707070","strokeWidth":3,"fill":{"x1":0,"y1":0,"x2":1,"y2":0,"gradient":"linear","stops":[{"offset":0,"color":"#ff0000"},{"offset":0.1667,"color":"#ffff00"},{"offset":0.3333,"color":"#00ff00"},{"offset":0.5,"color":"#00ffff"},{"offset":0.6667,"color":"#0000ff"},{"offset":0.8333,"color":"#ff00ff"},{"offset":1,"color":"#ff0000"}]}},
"encoding":{"x":{"field":"x","type":"quantitative","axis":null},"x2":{"field":"x2"},"y":{"field":"y","type":"quantitative","axis":null},"y2":{"field":"y2"}}},
{"data":{"name":"cbl"},"transform":[{"calculate":"datum.r=='a'?370.5+25.2*datum.v:2417+20.9*datum.v","as":"x"},{"calculate":"71","as":"y"}],
"mark":{"type":"text","font":"Liberation Sans","fontSize":34,"color":"#666666","align":"center","baseline":"middle"},
"encoding":{"x":{"field":"x","type":"quantitative","axis":null},"y":{"field":"y","type":"quantitative","axis":null},"text":{"field":"s"}}},
{"data":{"name":"lab"},"transform":[{"filter":"datum.g=='p'"},{"calculate":"['a','b']","as":"r"},{"flatten":["r"]},{"calculate":"(datum.r=='a'?796.6:2846.4)+20.7*datum.d-532.1*datum.t","as":"x"},{"calculate":"1117.5-5.81*datum.d-245.5*datum.t-(datum.p+20)*13.45","as":"y"}],
"mark":{"type":"text","font":"Liberation Sans","fontSize":38,"color":"#666666","align":"right","baseline":"middle","dx":-31,"dy":-8},
"encoding":{"x":{"field":"x","type":"quantitative","axis":null},"y":{"field":"y","type":"quantitative","axis":null},"text":{"field":"s"}}},
{"data":{"name":"lab"},"transform":[{"filter":"datum.g=='t'||datum.g=='d'"},{"calculate":"['a','b']","as":"r"},{"flatten":["r"]},{"calculate":"(datum.r=='a'?796.6:2846.4)+20.7*datum.d-532.1*datum.t+(datum.g=='d'?45:-45)","as":"x"},{"calculate":"1117.5-5.81*datum.d-245.5*datum.t+(datum.g=='d'?43:35)","as":"y"}],
"mark":{"type":"text","font":"Liberation Sans","fontSize":38,"color":"#666666","align":"center","baseline":"middle"},
"encoding":{"x":{"field":"x","type":"quantitative","axis":null},"y":{"field":"y","type":"quantitative","axis":null},"text":{"field":"s"}}},
{"data":{"name":"lab"},"transform":[{"filter":"datum.g=='T'||datum.g=='D'"},{"calculate":"['a','b']","as":"r"},{"flatten":["r"]},{"calculate":"(datum.r=='a'?796.6:2846.4)+20.7*datum.d-532.1*datum.t+(datum.g=='D'?3.6:-80)","as":"x"},{"calculate":"1117.5-5.81*datum.d-245.5*datum.t+(datum.g=='D'?190:157)","as":"y"}],
"mark":{"type":"text","font":"Liberation Sans","fontSize":41.5,"color":"#5a5a5a","align":"center","baseline":"middle"},
"encoding":{"x":{"field":"x","type":"quantitative","axis":null},"y":{"field":"y","type":"quantitative","axis":null},"text":{"field":"s"}}},
{"data":{"name":"lab"},"transform":[{"filter":"datum.g=='P'"},{"calculate":"['a','b']","as":"r"},{"flatten":["r"]},{"calculate":"(datum.r=='a'?796.6:2846.4)+20.7*datum.d-532.1*datum.t-157","as":"x"},{"calculate":"1117.5-5.81*datum.d-245.5*datum.t-(datum.p+20)*13.45","as":"y"}],
"mark":{"type":"text","font":"Liberation Sans","fontSize":41.5,"color":"#5a5a5a","align":"center","baseline":"middle","angle":270},
"encoding":{"x":{"field":"x","type":"quantitative","axis":null},"y":{"field":"y","type":"quantitative","axis":null},"text":{"field":"s"}}},
{"data":{"values":[{"r":"a","s":"(a)"},{"r":"b","s":"(b)"}]},"transform":[{"calculate":"(datum.r=='a'?796.6:2846.4)+58.4","as":"x"},{"calculate":"1117.5+195","as":"y"}],
"mark":{"type":"text","font":"Liberation Serif","fontStyle":"normal","fontWeight":"bold","fontSize":72,"color":"#000000","align":"center","baseline":"middle"},
"encoding":{"x":{"field":"x","type":"quantitative","axis":null},"y":{"field":"y","type":"quantitative","axis":null},"text":{"field":"s"}}}
]}
